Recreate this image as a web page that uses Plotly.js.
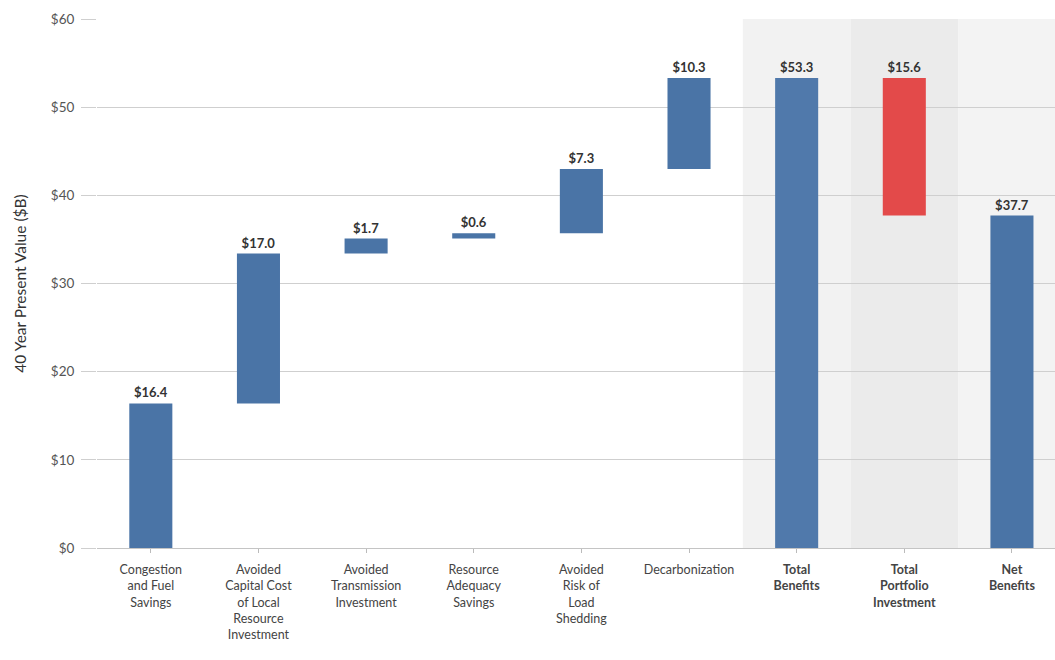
<!DOCTYPE html>
<html><head><meta charset="utf-8">
<script src="https://cdn.plot.ly/plotly-3.0.1.min.js"></script>
<style>html,body{margin:0;padding:0;background:#fff;}#chart{width:1055px;height:660px;}</style>
</head><body><div id="chart"></div>
<script>
const categories = ["Congestion<br>and Fuel<br>Savings","Avoided<br>Capital Cost<br>of Local<br>Resource<br>Investment","Avoided<br>Transmission<br>Investment","Resource<br>Adequacy<br>Savings","Avoided<br>Risk of<br>Load<br>Shedding","Decarbonization","<b>Total<br>Benefits</b>","<b>Total<br>Portfolio<br>Investment</b>","<b>Net<br>Benefits</b>"];
const bases = [0, 16.4, 33.4, 35.1, 35.7, 43.0, 0, 37.7, 0];
const amounts = [16.4, 17.0, 1.7, 0.6, 7.3, 10.3, 53.3, 15.6, 37.7];
const labels = ["$16.4","$17.0","$1.7","$0.6","$7.3","$10.3","$53.3","$15.6","$37.7"];
const barColors = ["#4a74a6","#4a74a6","#4a74a6","#4a74a6","#4a74a6","#4a74a6","#5079ab","#e34a4a","#4a74a6"];
const yTicks = [0,10,20,30,40,50,60];
const yTickText = ["$0","$10","$20","$30","$40","$50","$60"];

const idx = categories.map((c,i)=>i);
const trace = {
  type: "bar",
  x: idx,
  y: amounts,
  base: bases,
  width: 0.4,
  marker: {color: barColors, line: {width: 0}},
  text: labels,
  textposition: "outside",
  textfont: {family: "Lato, sans-serif", size: 13, color: "#333"},
  texttemplate: "<b>%{text}</b>",
  cliponaxis: false,
  hoverinfo: "skip"
};
const shapes = [
  {type:"rect", xref:"x", yref:"paper", x0:5.5, x1:6.5, y0:0, y1:1, fillcolor:"#f2f2f2", line:{width:0}, layer:"below"},
  {type:"rect", xref:"x", yref:"paper", x0:6.5, x1:7.5, y0:0, y1:1, fillcolor:"#ebebeb", line:{width:0}, layer:"below"},
  {type:"rect", xref:"x", yref:"paper", x0:7.5, x1:8.5, y0:0, y1:1, fillcolor:"#f3f3f3", line:{width:0}, layer:"below"}
];
const layout = {
  width: 1055, height: 660,
  margin: {l: 97, r: 0, t: 19, b: 112},
  paper_bgcolor: "#fff", plot_bgcolor: "rgba(0,0,0,0)",
  showlegend: false,
  font: {family: "Lato, sans-serif", color: "#555"},
  shapes: shapes,
  xaxis: {
    range: [-0.5, 8.4],
    tickmode: "array", tickvals: idx, ticktext: categories,
    tickson: "boundaries", ticks: "outside", ticklen: 4, tickcolor: "#bbb",
    ticklabelstandoff: 6,
    showgrid: false, showline: true, linecolor: "#c4c4c4", linewidth: 1,
    tickfont: {family: "Lato, sans-serif", size: 12.5, color: "#444"},
    fixedrange: true
  },
  yaxis: {
    range: [0, 60],
    tickmode: "array", tickvals: yTicks, ticktext: yTickText,
    showgrid: true, gridcolor: "#cfcfcf", gridwidth: 1,
    zeroline: false, ticks: "outside", ticklen: 15, tickcolor: "#cfcfcf",
    ticklabelstandoff: 4,
    tickfont: {family: "Lato, sans-serif", size: 13.5, color: "#555"},
    title: {text: "40 Year Present Value ($B)", font: {family: "Lato, sans-serif", size: 15.5, color: "#333"}, standoff: 20},
    fixedrange: true
  },
  bargap: 0.6
};
Plotly.newPlot("chart", [trace], layout, {displayModeBar: false, staticPlot: true});
</script></body></html>
